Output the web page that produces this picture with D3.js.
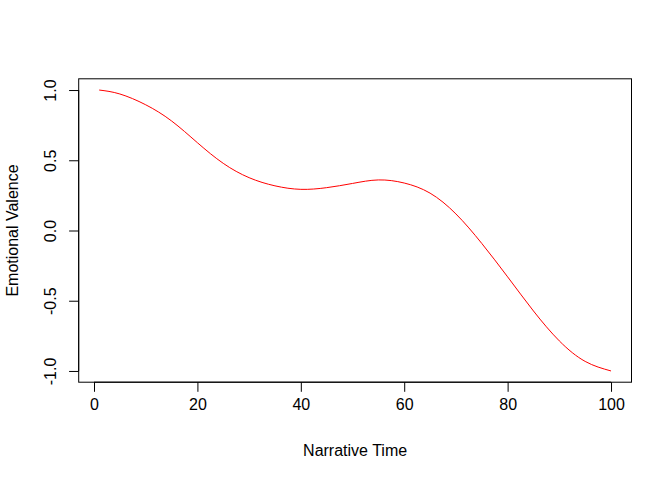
<!DOCTYPE html>
<html>
<head>
<meta charset="utf-8">
<script src="https://cdn.jsdelivr.net/npm/d3@7"></script>
<style>
  body { margin: 0; background: #fff; }
  text { font-family: "Liberation Sans", Arial, sans-serif; fill: #000; }
</style>
</head>
<body>
<div id="chart"></div>
<script>
// narrative time (x) and emotional valence (y)
const narrativeTime = [1, 5, 10, 15, 20, 25, 30, 35, 40, 45, 50, 55, 60, 65, 70, 75, 80, 85, 90, 95, 100];
const valence = [1.0, 0.972, 0.895, 0.78, 0.625, 0.478, 0.376, 0.318, 0.293, 0.305, 0.335, 0.36, 0.338, 0.266, 0.118, -0.092, -0.33, -0.573, -0.786, -0.932, -1.0];
const xTicks = [0, 20, 40, 60, 80, 100];
const yTicks = [-1.0, -0.5, 0.0, 0.5, 1.0];

const width = 672, height = 480;
const margin = { top: 78.8, right: 40.5, bottom: 97.8, left: 78.7 };
const innerW = width - margin.left - margin.right;
const innerH = height - margin.top - margin.bottom;

const svg = d3.select("#chart").append("svg")
    .attr("width", width)
    .attr("height", height);

const g = svg.append("g").attr("transform", "translate(" + margin.left + "," + margin.top + ")");

// R-style 4% padding around the data range
const xExt = d3.extent(narrativeTime), yExt = d3.extent(valence);
const xPad = (xExt[1] - xExt[0]) * 0.04, yPad = (yExt[1] - yExt[0]) * 0.04;

const x = d3.scaleLinear().domain([xExt[0] - xPad, xExt[1] + xPad]).range([0, innerW]);
const y = d3.scaleLinear().domain([yExt[0] - yPad, yExt[1] + yPad]).range([innerH, 0]);

// box
g.append("rect")
    .attr("width", innerW).attr("height", innerH)
    .attr("fill", "none").attr("stroke", "#000").attr("stroke-width", 1);

// x axis
const xAxis = g.append("g")
    .attr("transform", "translate(0," + innerH + ")")
    .call(d3.axisBottom(x).tickValues(xTicks).tickSize(9.6).tickPadding(7).tickFormat(d3.format("d")));
xAxis.select(".domain").attr("d", "M" + x(xTicks[0]) + ",0H" + x(xTicks[xTicks.length - 1]));
xAxis.selectAll("text").style("font-size", "16px").attr("font-family", null);

// y axis with rotated labels, plain hyphen for negatives like R
const yAxis = g.append("g")
    .call(d3.axisLeft(y).tickValues(yTicks).tickSize(9.6).tickFormat(d => d.toFixed(1)));
yAxis.select(".domain").attr("d", "M0," + y(yTicks[0]) + "V" + y(yTicks[yTicks.length - 1]));
yAxis.selectAll("text")
    .style("font-size", "16px")
    .attr("font-family", null)
    .attr("x", null).attr("dy", null)
    .attr("text-anchor", "middle")
    .attr("transform", "translate(-23,0) rotate(-90)")
    .attr("y", 0);

g.selectAll(".tick line").attr("stroke", "#000");
g.selectAll(".domain").attr("stroke", "#000");

// curve
const line = d3.line()
    .x((d, i) => x(narrativeTime[i]))
    .y(d => y(d))
    .curve(d3.curveNatural);

g.append("path")
    .datum(valence)
    .attr("fill", "none")
    .attr("stroke", "#ff0000")
    .attr("stroke-width", 1)
    .attr("d", line);

// axis titles
svg.append("text")
    .attr("x", margin.left + innerW / 2)
    .attr("y", 456)
    .attr("text-anchor", "middle")
    .style("font-size", "16px")
    .text("Narrative Time");

svg.append("text")
    .attr("transform", "translate(18," + (margin.top + innerH / 2) + ") rotate(-90)")
    .attr("text-anchor", "middle")
    .style("font-size", "16px")
    .text("Emotional Valence");
</script>
</body>
</html>
